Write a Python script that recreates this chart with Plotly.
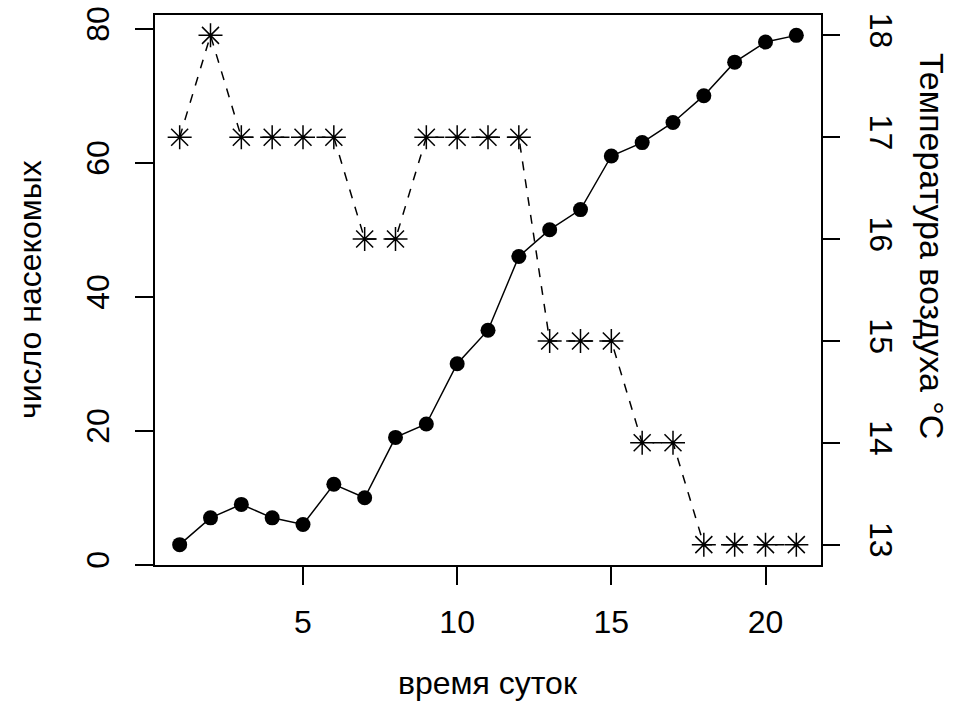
import plotly.graph_objects as go

hours = list(range(1, 22))
insects = [3, 7, 9, 7, 6, 12, 10, 19, 21, 30, 35, 46, 50, 53, 61, 63, 66, 70, 75, 78, 79]
temperature = [17, 18, 17, 17, 17, 17, 16, 16, 17, 17, 17, 17, 15, 15, 15, 14, 14, 13, 13, 13, 13]
x_ticks = [5, 10, 15, 20]
y_ticks = [0, 20, 40, 60, 80]
y2_ticks = [13, 14, 15, 16, 17, 18]

FONT = "Liberation Sans, Arial, sans-serif"
FS = 32

L, R, T, B = 155, 132, 15, 159
W, H = 953, 724
pw = W - L - R
ph = H - T - B

fig = go.Figure()
fig.add_trace(go.Scatter(
    x=hours, y=insects, mode="lines+markers",
    line=dict(color="black", width=1.5),
    marker=dict(symbol="circle", size=15, color="black"),
    yaxis="y", showlegend=False))
fig.add_trace(go.Scatter(
    x=hours, y=temperature, mode="lines+markers",
    line=dict(color="black", width=1.5, dash="dash"),
    marker=dict(symbol="asterisk-open", size=20, color="black",
                line=dict(color="black", width=1.5)),
    yaxis="y2", showlegend=False))

axis_common = dict(ticks="outside", ticklen=18, tickwidth=1.5, tickcolor="black",
                   showgrid=False, zeroline=False, automargin=False)

fig.update_layout(
    width=W, height=H,
    margin=dict(l=L, r=R, t=T, b=B, autoexpand=False),
    paper_bgcolor="white", plot_bgcolor="white",
    font=dict(family=FONT, size=FS, color="black"),
    xaxis=dict(range=[0.2, 21.8], tickvals=x_ticks, ticklabelstandoff=10,
               showline=True, linecolor="black", linewidth=1.5, mirror=True,
               **axis_common),
    yaxis=dict(range=[-0.04, 82.04], tickvals=y_ticks, tickangle=-90,
               ticklabelstandoff=13,
               showline=True, linecolor="black", linewidth=1.5, mirror=True,
               **axis_common),
    yaxis2=dict(range=[12.8, 18.2], tickvals=y2_ticks, tickangle=90,
                ticklabelstandoff=17,
                overlaying="y", side="right", anchor="x", showline=False,
                **axis_common),
    annotations=[
        dict(text="время суток", x=0.5, y=(T + ph - 683) / ph,
             xref="paper", yref="paper", xanchor="center", yanchor="middle",
             showarrow=False, font=dict(size=FS)),
        dict(text="число насекомых", x=(30 - L) / pw, y=0.5,
             xref="paper", yref="paper", xanchor="center", yanchor="middle",
             textangle=-90, showarrow=False, font=dict(size=FS)),
        dict(text="Температура воздуха °С", x=(932 - L) / pw,
             y=(T + ph - 246) / ph,
             xref="paper", yref="paper", xanchor="center", yanchor="middle",
             textangle=90, showarrow=False, font=dict(size=34)),
    ],
)

fig.write_html("out.html", config={"displayModeBar": False},
               post_script="document.body.style.margin='0';document.body.style.overflow='hidden';")
